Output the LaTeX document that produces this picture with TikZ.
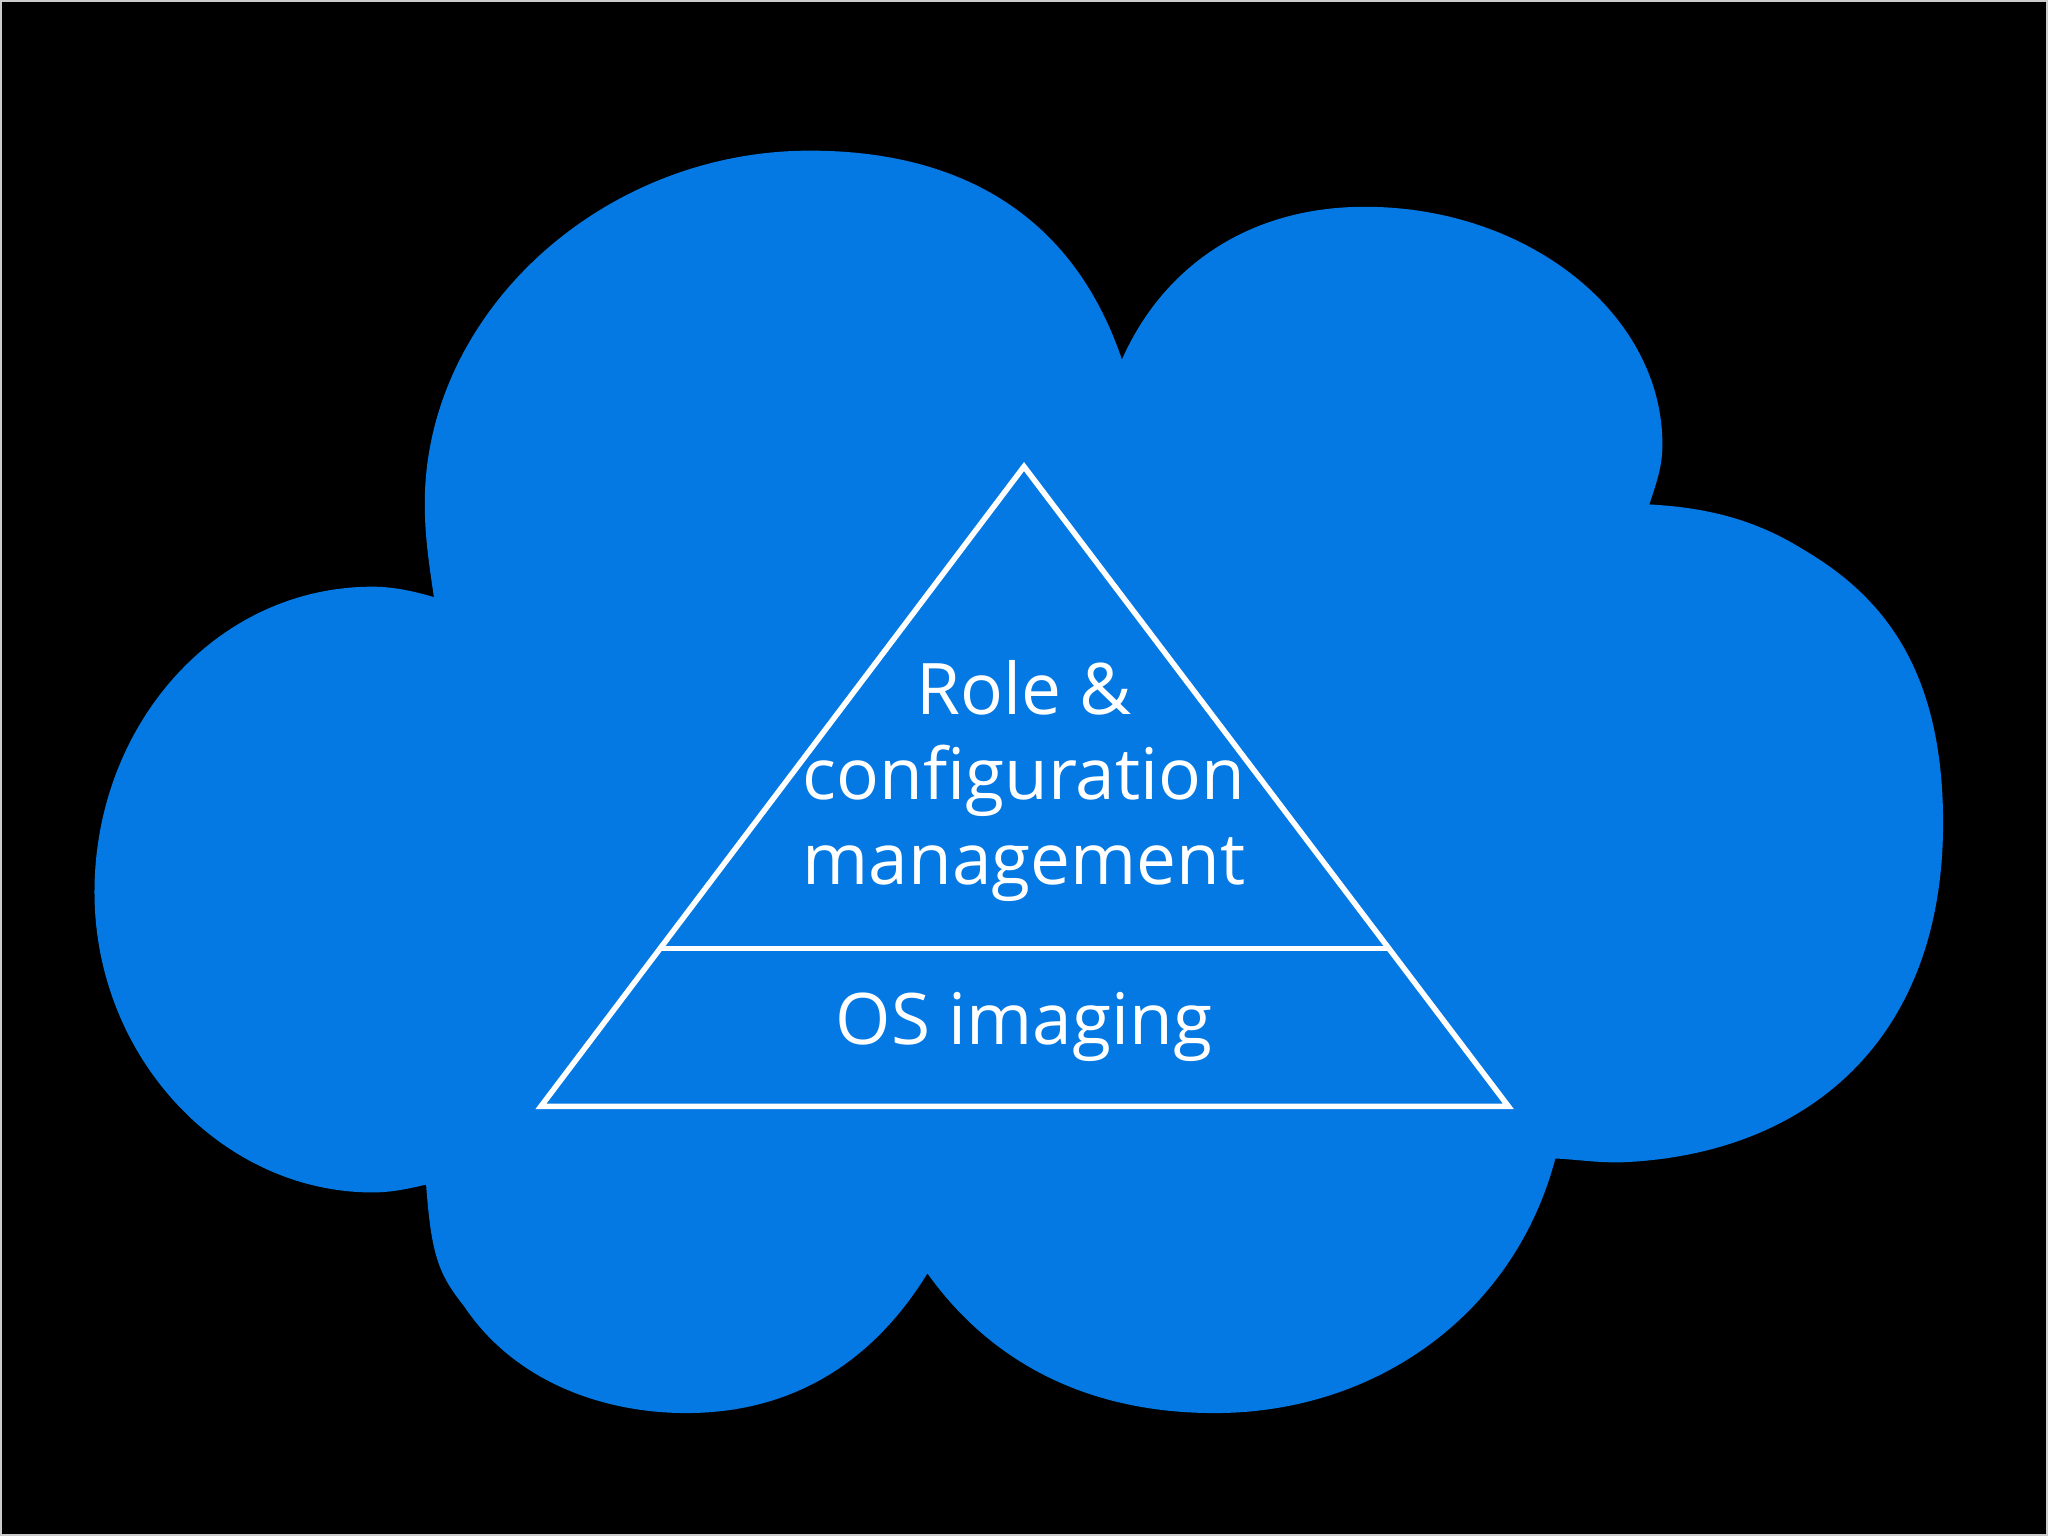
\documentclass[tikz,border=0pt]{standalone}
\usepackage{fontspec}
\setmainfont{Open Sans}
\definecolor{cloudblue}{HTML}{0478E3}
\begin{document}
\begin{tikzpicture}[x=0.01cm,y=-0.01cm,
  edge/.style={draw=white,line width=1.2pt},
  lbl/.style={text=white,font=\fontsize{15.5}{18.5}\selectfont,align=center}]
\fill[black] (0,0) rectangle (1568,1176);
\draw[gray!40,line width=0.5pt] (0.5,0.5) rectangle (1567.5,1175.5);
\fill[cloudblue] (859,275) .. controls (820,160) and (730,115) .. (620,115)
 .. controls (460,115) and (325,240) .. (325,385)
 .. controls (325,410) and (328,430) .. (332,457)
 .. controls (315,452) and (300,449) .. (285,449)
 .. controls (165,449) and (72,555) .. (72,683)
 .. controls (72,810) and (170,913) .. (285,913)
 .. controls (300,913) and (313,910) .. (326,907)
 .. controls (330,960) and (335,975) .. (355,1000)
 .. controls (395,1060) and (465,1082) .. (525,1082)
 .. controls (610,1082) and (670,1040) .. (710,975)
 .. controls (760,1045) and (835,1082) .. (930,1082)
 .. controls (1055,1082) and (1160,1005) .. (1191,887)
 .. controls (1210,888) and (1220,890) .. (1240,890)
 .. controls (1380,885) and (1488,800) .. (1488,630)
 .. controls (1488,510) and (1440,455) .. (1380,420)
 .. controls (1340,395) and (1300,388) .. (1263,386)
 .. controls (1270,365) and (1273,355) .. (1273,340)
 .. controls (1273,240) and (1170,158) .. (1045,158)
 .. controls (955,158) and (890,205) .. (859,275) -- cycle;
\coordinate (apex) at (784,357);
\coordinate (bl) at (414,847);
\coordinate (br) at (1155,847);
\coordinate (ml) at (507,726);
\coordinate (mr) at (1062,726);
\draw[edge,line join=miter] (apex) -- (br) -- (bl) -- cycle;
\draw[edge] (ml) -- (mr);
\node[lbl] (top) at (784,598) {Role \&\\configuration\\management};
\node[lbl] (bot) at (784,786) {OS imaging};
\end{tikzpicture}
\end{document}
